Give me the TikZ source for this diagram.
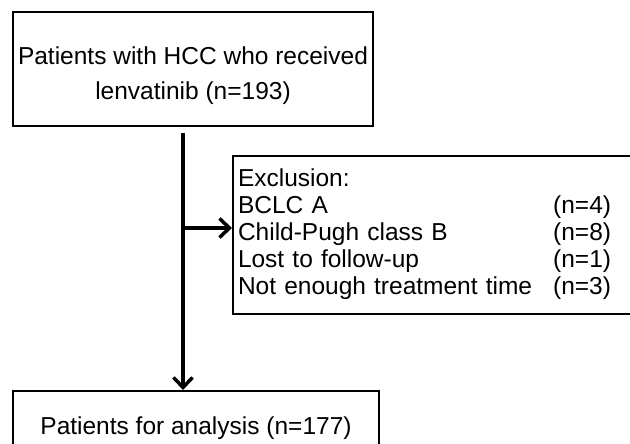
\documentclass[tikz,border=0pt]{standalone}
\usepackage{fontspec}
\setmainfont{Liberation Sans}
\usetikzlibrary{arrows.meta}

\begin{document}
\begin{tikzpicture}[x=1bp, y=-1bp,
    font=\fontsize{24.5bp}{35bp}\selectfont,
    box/.style={draw, line width=2bp, inner sep=0pt, align=center},
    flow/.style={line width=3.5bp, -{Straight Barb[length=10bp,width=19bp]}}]
  % Canvas: 630 x 444 px, y grows downward
  \clip (0,0) rectangle (630,444);

  % Cohort box: x 13..373, y 12..126
  \node[box, minimum width=360bp, minimum height=114bp, text height=66bp]
    (cohort) at (193,69) {Patients with HCC who received\\lenvatinib (n=193)};

  % Exclusion box: left 232, top 155, bottom 313, runs past the right edge
  \node[box, anchor=north west, text width=420bp, inner xsep=5bp,
        minimum height=158bp, align=left,
        font=\fontsize{24.5bp}{27bp}\selectfont]
    (excl) at (232,155) {%
    \begin{tabular}{@{}l@{\hspace{21bp}}l@{}}
      Exclusion: & \\
      BCLC A & (n=4) \\
      Child-Pugh class B & (n=8) \\
      Lost to follow-up & (n=1) \\
      Not enough treatment time & (n=3)
    \end{tabular}};

  % Analysis box: x 13..379, top 391, runs past the bottom edge
  \node[box, minimum width=366bp, minimum height=75bp]
    (analysis) at (196,428.5) {Patients for analysis (n=177)};

  % Trunk at x = 183, branch to the exclusion box at y = 228
  \coordinate (split) at (183,228);
  \draw[flow, shorten <=6bp] (cohort.south -| split) -- (split |- analysis.north);
  \draw[flow] (split) -- (split -| excl.west);
\end{tikzpicture}
\end{document}
